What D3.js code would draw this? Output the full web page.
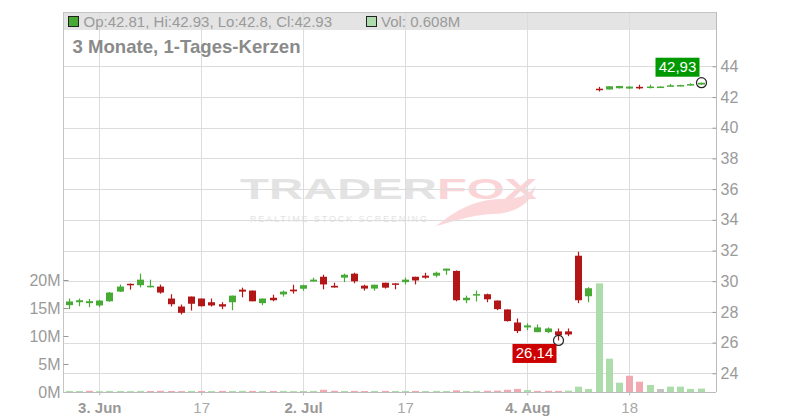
<!DOCTYPE html>
<html>
<head>
<meta charset="utf-8">
<script src="https://cdn.jsdelivr.net/npm/d3@7/dist/d3.min.js"></script>
<style>
html,body{margin:0;padding:0;background:#fff;}
svg{display:block;font-family:"Liberation Sans",Arial,sans-serif;}
</style>
</head>
<body>
<svg id="c" width="800" height="420"></svg>
<script>
// ---- data (trading-day index 0..62) ----
const opens  = [28.44,28.63,28.57,28.42,28.69,29.32,29.83,29.74,29.66,29.65,
                28.87,28.35,29.00,28.87,28.63,28.50,28.63,29.45,29.39,28.57,
                28.92,29.14,29.45,29.51,29.98,30.29,29.70,30.23,30.49,29.71,
                29.52,29.90,29.86,29.94,30.29,30.36,30.36,30.69,30.67,28.76,
                29.12,29.15,28.74,28.16,27.31,26.99,26.68,26.68,26.73,26.73,
                31.66,29.02,42.54,42.49,42.57,42.55,42.66,42.62,42.62,42.70,
                42.72,42.76,42.81];
const highs  = [28.87,28.87,28.85,28.79,29.30,29.78,29.85,30.49,30.10,29.78,
                29.15,28.48,29.00,28.87,28.87,28.63,29.06,29.58,29.39,28.87,
                29.12,29.39,29.77,29.77,30.23,30.42,29.90,30.49,30.55,29.77,
                29.77,29.90,29.86,30.23,30.29,30.55,30.62,30.82,30.70,29.06,
                29.39,29.19,28.74,28.16,27.57,27.25,27.18,26.99,26.92,26.92,
                31.92,29.61,42.66,42.70,42.72,42.70,42.80,42.80,42.70,42.85,
                42.80,42.90,42.93];
const lows   = [28.18,28.37,28.31,28.31,28.66,29.30,29.45,29.60,29.60,29.19,
                28.35,27.83,28.09,28.35,28.35,28.18,28.11,28.95,28.69,28.44,
                28.69,29.00,29.19,29.38,29.98,29.47,29.59,29.94,29.87,29.39,
                29.38,29.52,29.47,29.79,29.79,30.16,30.25,30.42,28.69,28.57,
                28.68,28.63,28.11,27.37,26.62,26.81,26.68,26.62,26.14,26.42,
                28.57,28.63,42.36,42.49,42.55,42.53,42.50,42.56,42.60,42.68,
                42.70,42.74,42.80];
const closes = [28.68,28.76,28.70,28.74,29.26,29.65,29.74,30.10,29.70,29.26,
                28.50,27.94,28.53,28.37,28.42,28.35,29.06,29.32,28.69,28.87,
                28.76,29.32,29.34,29.74,30.10,29.79,29.59,30.42,29.99,29.52,
                29.77,29.58,29.79,30.10,30.05,30.23,30.55,30.82,28.76,28.92,
                29.16,28.82,28.18,27.40,26.75,27.12,26.99,26.92,26.47,26.53,
                28.76,29.54,42.49,42.70,42.72,42.68,42.60,42.68,42.68,42.76,
                42.78,42.84,42.93];
// volume in millions
const volumes = [0.20,0.18,0.22,0.15,0.20,0.18,0.16,0.20,0.18,0.22,
                 0.18,0.16,0.20,0.18,0.17,0.20,0.18,0.22,0.19,0.17,
                 0.18,0.20,0.16,0.18,0.20,0.40,0.22,0.18,0.20,0.17,
                 0.18,0.20,0.18,0.20,0.19,0.17,0.20,0.18,0.30,0.18,
                 0.20,0.22,0.24,0.40,0.55,0.35,0.20,0.22,0.20,0.25,
                 0.95,0.55,19.40,5.95,1.66,2.90,1.84,1.25,0.54,0.95,
                 0.95,0.55,0.608];
const xTickIdx    = [3, 13, 23, 33, 45, 55];
const xTickLabels = ["3. Jun", "17", "2. Jul", "17", "4. Aug", "18"];
const xTickBold   = [true, false, true, false, true, false];
const priceTicks  = [24,26,28,30,32,34,36,38,40,42,44];
const volTicks    = [0,5,10,15,20];
const headerText  = "Op:42.81, Hi:42.93, Lo:42.8, Cl:42.93";
const volText     = "Vol: 0.608M";
const titleText   = "3 Monate, 1-Tages-Kerzen";
const lastLabel   = "42,93";
const lowLabel    = "26,14";
const lowIdx      = 48;

// ---- layout ----
const L = 63, R = 716, T = 12, B = 392;
const svg = d3.select("#c");

const x = d3.scaleLinear().domain([-0.56, 63.52]).range([L, R]);
const y = d3.scaleLinear().domain([24, 44]).range([373.3, 66.3]);
const yv = d3.scaleLinear().domain([0, 20]).range([B, 280]);

const GREEN = "#46aa35", RED = "#b21616";
const VGREEN = "#acdcaa", VRED = "#f1a9b1", VGRAY = "#c2c2c2";

// header band
svg.append("rect").attr("x", L).attr("y", T).attr("width", R - L).attr("height", 18)
  .attr("fill", "#e4e4e4");

// watermark
const wm = svg.append("g");
wm.append("text").attr("x", 240).attr("y", 198.5).attr("font-size", 30).attr("font-weight", "bold")
  .attr("fill", "#e3e3e3").attr("textLength", 197).attr("lengthAdjust", "spacingAndGlyphs").text("TRADER");
wm.append("text").attr("x", 437).attr("y", 198.5).attr("font-size", 30).attr("font-weight", "bold")
  .attr("fill", "#fad4d7").attr("textLength", 100).attr("lengthAdjust", "spacingAndGlyphs").text("FOX");
wm.append("text").attr("x", 250).attr("y", 221.5).attr("font-size", 9)
  .attr("fill", "#e3e3e3").attr("textLength", 177).attr("lengthAdjust", "spacing").text("REALTIME STOCK SCREENING");
wm.append("path").attr("d", "M436,226 C452,214 470,200 500,199 C515,199 528,196 536,186 C530,206 512,214 492,214 C470,215 452,222 436,226 Z")
  .attr("fill", "#fbd7da");

// gridlines
const grid = svg.append("g");
grid.selectAll("line.h").data(priceTicks).join("line")
  .attr("x1", L).attr("x2", R).attr("y1", d => Math.round(y(d)) + 0.5).attr("y2", d => Math.round(y(d)) + 0.5)
  .attr("stroke", "#dcdcdc");
grid.selectAll("line.v").data(xTickIdx).join("line")
  .attr("y1", T).attr("y2", B).attr("x1", d => Math.round(x(d)) + 0.5).attr("x2", d => Math.round(x(d)) + 0.5)
  .attr("stroke", "#dcdcdc");

// frame
svg.append("line").attr("x1", L).attr("x2", R).attr("y1", T + 0.5).attr("y2", T + 0.5).attr("stroke", "#c4c4c4");
svg.append("line").attr("x1", L + 0.5).attr("x2", L + 0.5).attr("y1", T).attr("y2", B).attr("stroke", "#c4c4c4");

// header texts
svg.append("rect").attr("x", 68.5).attr("y", 16.5).attr("width", 10).attr("height", 10)
  .attr("fill", GREEN).attr("stroke", "#222");
svg.append("text").attr("x", 83.5).attr("y", 27.3).attr("font-size", 15).attr("fill", "#9a9a9a").text(headerText);
svg.append("rect").attr("x", 366.5).attr("y", 16.5).attr("width", 10).attr("height", 10)
  .attr("fill", VGREEN).attr("stroke", "#222");
svg.append("text").attr("x", 381).attr("y", 27.3).attr("font-size", 15).attr("fill", "#9a9a9a").text(volText);
svg.append("text").attr("x", 72.5).attr("y", 53.3).attr("font-size", 18.6).attr("font-weight", "bold")
  .attr("fill", "#8a8a8a").text(titleText);

// volume bars
const idx = d3.range(opens.length);
const volColor = i => {
  if (i === 0) return closes[0] >= opens[0] ? VGREEN : VRED;
  if (closes[i] > closes[i - 1]) return VGREEN;
  if (closes[i] < closes[i - 1]) return VRED;
  return VGRAY;
};
svg.append("g").selectAll("rect").data(idx).join("rect")
  .attr("x", i => Math.round(x(i)) - 3)
  .attr("width", 7)
  .attr("y", i => yv(volumes[i]))
  .attr("height", i => B - yv(volumes[i]))
  .attr("fill", volColor);

// candles
const cg = svg.append("g");
const col = i => closes[i] >= opens[i] ? GREEN : RED;
cg.selectAll("line").data(idx).join("line")
  .attr("x1", i => Math.round(x(i)) + 0.5).attr("x2", i => Math.round(x(i)) + 0.5)
  .attr("y1", i => y(highs[i])).attr("y2", i => y(lows[i]))
  .attr("stroke", col).attr("stroke-width", 1.2);
cg.selectAll("rect").data(idx).join("rect")
  .attr("x", i => Math.round(x(i)) - 3)
  .attr("width", 7)
  .attr("y", i => y(Math.max(opens[i], closes[i])))
  .attr("height", i => Math.max(1.5, Math.abs(y(opens[i]) - y(closes[i]))))
  .attr("fill", col);

// axes
const axR = svg.append("g").attr("transform", `translate(${R + 0.5},0)`)
  .call(d3.axisRight(y).tickValues(priceTicks).tickSizeInner(-4).tickSizeOuter(0).tickPadding(4).tickFormat(d3.format("d")));
axR.select(".domain").remove();
svg.append("line").attr("x1", R + 0.5).attr("x2", R + 0.5).attr("y1", T).attr("y2", B).attr("stroke", "#bbb");
axR.selectAll(".tick line").attr("stroke", "#999");
axR.selectAll(".tick text").attr("font-size", 16).attr("fill", "#9a9a9a").attr("font-family", "Liberation Sans, Arial, sans-serif");

const axL = svg.append("g").attr("transform", `translate(${L + 0.5},0)`)
  .call(d3.axisLeft(yv).tickValues(volTicks).tickSizeInner(-5).tickSizeOuter(0).tickPadding(3).tickFormat(d => d + "M"));
axL.select(".domain").remove();
axL.selectAll(".tick line").attr("stroke", "#999");
axL.selectAll(".tick text").attr("font-size", 16).attr("fill", "#9a9a9a").attr("font-family", "Liberation Sans, Arial, sans-serif");

const axB = svg.append("g").attr("transform", `translate(0,${B + 0.5})`)
  .call(d3.axisBottom(x).tickValues(xTickIdx).tickSizeInner(3).tickSizeOuter(0).tickPadding(7)
    .tickFormat((d, i) => xTickLabels[i]));
axB.select(".domain").attr("stroke", "#bbb").attr("d", `M${L},0H${R}`);
axB.selectAll(".tick line").attr("stroke", "#bbb");
axB.selectAll(".tick text").attr("font-size", 15).attr("font-family", "Liberation Sans, Arial, sans-serif")
  .attr("fill", (d, i) => xTickBold[i] ? "#999" : "#a8a8a8")
  .attr("font-weight", (d, i) => xTickBold[i] ? "bold" : "normal");

// markers & labels
const last = opens.length - 1;
const lx = Math.round(x(last)) + 0.5, ly = y(closes[last]);
svg.append("circle").attr("cx", lx).attr("cy", ly).attr("r", 5).attr("fill", "none").attr("stroke", "#222").attr("stroke-width", 1.2);
svg.append("rect").attr("x", lx - 46).attr("y", ly - 25).attr("width", 44).attr("height", 19).attr("fill", "#009a00");
svg.append("text").attr("x", lx - 24).attr("y", ly - 10.5).attr("text-anchor", "middle").attr("font-size", 15)
  .attr("fill", "#fff").text(lastLabel);

const mx = Math.round(x(lowIdx)) + 0.5, my = y(lows[lowIdx]);
svg.append("circle").attr("cx", mx).attr("cy", my).attr("r", 5).attr("fill", "none").attr("stroke", "#222").attr("stroke-width", 1.2);
svg.append("rect").attr("x", mx - 46).attr("y", my + 3.5).attr("width", 44).attr("height", 19).attr("fill", "#cc0000");
svg.append("text").attr("x", mx - 24).attr("y", my + 18).attr("text-anchor", "middle").attr("font-size", 15)
  .attr("fill", "#fff").text(lowLabel);
</script>
</body>
</html>
